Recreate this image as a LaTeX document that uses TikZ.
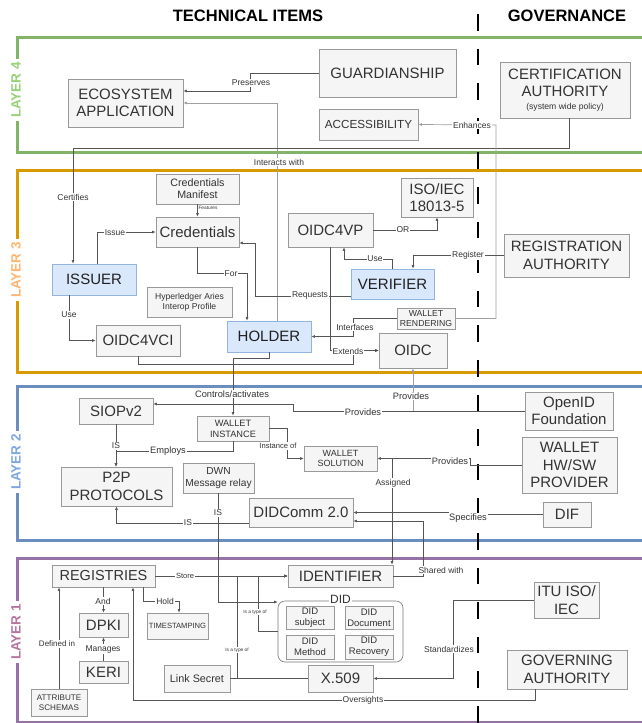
\documentclass[tikz,border=0pt]{standalone}
\usepackage{fontspec}
\setmainfont{Liberation Sans}
\usetikzlibrary{arrows.meta,calc}

\definecolor{boxfill}{HTML}{F5F5F5}
\definecolor{boxline}{HTML}{999999}
\definecolor{groupline}{HTML}{777777}
\definecolor{boxtext}{HTML}{333333}
\definecolor{bluefill}{HTML}{DAE8FC}
\definecolor{actorline}{HTML}{94B4E0}
\definecolor{blueline}{HTML}{6C8EBF}
\definecolor{greenline}{HTML}{82B366}
\definecolor{orangeline}{HTML}{D79B00}
\definecolor{purpleline}{HTML}{9673A6}
\definecolor{greentext}{HTML}{97D077}
\definecolor{orangetext}{HTML}{FFB570}
\definecolor{bluetext}{HTML}{7EA6E0}
\definecolor{purpletext}{HTML}{B5739D}
\definecolor{linkdark}{HTML}{555555}
\definecolor{linklight}{HTML}{A0A0A0}

\newcommand{\fs}[2]{\fontsize{#1}{#2}\selectfont}

\begin{document}
\begin{tikzpicture}[x=1pt,y=-1pt,
  box/.style={draw=boxline, fill=boxfill, text=boxtext, line width=0.7pt, inner sep=1pt, align=center},
  actor/.style={draw=actorline, fill=bluefill, text=black!88, line width=0.7pt, inner sep=1pt, align=center},
  big/.style={font=\fs{15}{17.5}},
  arr/.style={draw=linkdark, line width=0.6pt, -{Latex[length=3.5pt,width=3pt]}},
  arrlight/.style={draw=linklight, line width=0.7pt, -{Latex[length=3.5pt,width=3pt]}},
  plain/.style={draw=linkdark, line width=0.6pt},
  lbl/.style={fill=white, inner sep=0.8pt, text=boxtext, font=\fs{8.5}{9}},
  lblb/.style={fill=white, inner sep=0.8pt, text=boxtext, font=\fs{9.3}{10}},
  tiny/.style={fill=white, inner sep=0.5pt, text=boxtext, font=\fs{4.8}{5}},
  layerframe/.style={line width=3pt},
  layerlbl/.style={rotate=90, fill=white, inner sep=3.5pt, font=\bfseries\fs{13.5}{14}},
  heading/.style={font=\bfseries\fs{16.5}{18}}
]
\useasboundingbox (0,0) rectangle (642,723);

% ---------- layer frames (open on the right) ----------
\draw[layerframe, greenline]  (650,37)  -- (17,37)  -- (17,152) -- (650,152);
\draw[layerframe, orangeline] (650,170) -- (17,170) -- (17,372) -- (650,372);
\draw[layerframe, blueline]   (650,386) -- (17,386) -- (17,540) -- (650,540);
\draw[layerframe, purpleline] (650,558) -- (17,558) -- (17,722) -- (650,722);

\node[layerlbl, text=greentext]  (lay4) at (16,90)  {LAYER 4};
\node[layerlbl, text=orangetext] (lay3) at (16,270) {LAYER 3};
\node[layerlbl, text=bluetext]   (lay2) at (16,462) {LAYER 2};
\node[layerlbl, text=purpletext] (lay1) at (16,632) {LAYER 1};

% ---------- column headings and separator ----------
\node[heading] (hdtech) at (248,16) {TECHNICAL ITEMS};
\node[heading] (hdgov)  at (567,16) {GOVERNANCE};
\draw[line width=2.5pt, dash pattern=on 16.5pt off 18.1pt] (478,14) -- (478,723);

% ---------- layer 4 ----------
\node[box, big, minimum width=115pt, minimum height=48pt] (eco) at (125.5,103) {ECOSYSTEM\\APPLICATION};
\node[box, big, minimum width=137pt, minimum height=48pt] (guard) at (387.5,73) {GUARDIANSHIP};
\node[box, big, minimum width=130pt, minimum height=56pt] (ca) at (565,90)
  {CERTIFICATION\\AUTHORITY\\[-5pt]{\fs{8.6}{10}(system wide policy)}};
\node[box, font=\fs{11.7}{13}, minimum width=99pt, minimum height=31pt] (access) at (368.5,124.5) {ACCESSIBILITY};

% ---------- layer 3 ----------
\node[box, font=\fs{10.7}{12.3}, minimum width=83pt, minimum height=30pt] (manifest) at (197.5,189) {Credentials\\Manifest};
\node[box, big, minimum width=83pt, minimum height=30pt] (cred) at (197.5,232) {Credentials};
\node[actor, big, minimum width=84pt, minimum height=31pt] (issuer) at (94,279.5) {ISSUER};
\node[box, font=\fs{8.6}{10}, minimum width=85pt, minimum height=30pt] (hyper) at (189.5,302) {Hyperledger Aries\\Interop Profile};
\node[box, big, minimum width=84pt, minimum height=31pt] (oidc4vci) at (138,340.5) {OIDC4VCI};
\node[actor, big, minimum width=84pt, minimum height=31pt] (holder) at (269,336.5) {HOLDER};
\node[box, big, minimum width=85pt, minimum height=34pt] (oidc4vp) at (330.5,230) {OIDC4VP};
\node[box, big, minimum width=72pt, minimum height=39pt] (iso) at (437,197.5) {ISO/IEC\\18013-5};
\node[actor, big, minimum width=83pt, minimum height=30pt] (verifier) at (392.5,284) {VERIFIER};
\node[box, big, minimum width=125pt, minimum height=43pt] (regauth) at (566.5,255.5) {REGISTRATION\\AUTHORITY};
\node[box, font=\fs{8.7}{10.3}, minimum width=58pt, minimum height=21pt] (wrender) at (426,318.5) {WALLET\\RENDERING};
\node[box, big, minimum width=68pt, minimum height=35pt] (oidc) at (413,350.5) {OIDC};

% ---------- layer 2 ----------
\node[box, big, minimum width=74pt, minimum height=26pt] (siop) at (116,411) {SIOPv2};
\node[box, font=\fs{9.2}{10.8}, minimum width=72pt, minimum height=25pt] (winst) at (233,428.5) {WALLET\\INSTANCE};
\node[box, font=\fs{9}{10.8}, minimum width=73pt, minimum height=25pt] (wsol) at (340.5,458.5) {WALLET\\SOLUTION};
\node[box, big, minimum width=111pt, minimum height=39pt] (p2p) at (116.5,486.5) {P2P\\PROTOCOLS};
\node[box, font=\fs{10.2}{11.4}, minimum width=71pt, minimum height=30pt] (dwn) at (218.5,478) {DWN\\Message relay};
\node[box, big, minimum width=104pt, minimum height=29pt] (didcomm) at (301,512.5) {DIDComm 2.0};
\node[box, big, minimum width=88pt, minimum height=38pt] (openid) at (569,411) {OpenID\\Foundation};
\node[box, big, minimum width=95pt, minimum height=56pt] (whs) at (569.5,465) {WALLET\\HW/SW\\PROVIDER};
\node[box, big, minimum width=48pt, minimum height=25pt] (dif) at (567,514.5) {DIF};

% ---------- layer 1 ----------
\node[box, font=\fs{14.5}{16}, minimum width=103pt, minimum height=22pt] (reg) at (103.5,576) {REGISTRIES};
\node[box, big, minimum width=105pt, minimum height=22pt] (ident) at (340.5,576) {IDENTIFIER};
\node[box, big, minimum width=49pt, minimum height=24pt] (dpki) at (103.5,625) {DPKI};
\node[box, big, minimum width=49pt, minimum height=22pt] (keri) at (103.5,672) {KERI};
\node[box, font=\fs{7.6}{9}, minimum width=61pt, minimum height=26pt] (tstamp) at (177.5,626) {TIMESTAMPING};
\node[box, font=\fs{8.1}{10}, minimum width=56pt, minimum height=27pt] (attr) at (59,702.5) {ATTRIBUTE\\SCHEMAS};
\node[box, font=\fs{10.8}{12}, minimum width=66pt, minimum height=27pt] (link) at (197,678.5) {Link Secret};
\node[box, big, minimum width=65pt, minimum height=27pt] (x509) at (340.5,678.5) {X.509};
\node[draw=groupline, fill=white, line width=0.6pt, rounded corners=7pt, minimum width=125pt, minimum height=61pt] (didgrp) at (340.5,631.5) {};
\node[fill=white, inner sep=1.5pt, text=boxtext, font=\fs{12}{13}] (didtitle) at (340.5,599) {DID};
\node[box, font=\fs{9.5}{10.6}, minimum width=48pt, minimum height=23pt] (dsub) at (310,617.5) {DID\\subject};
\node[box, font=\fs{9.5}{10.6}, minimum width=48pt, minimum height=23pt] (ddoc) at (369,617.5) {DID\\Document};
\node[box, font=\fs{9.5}{10.6}, minimum width=48pt, minimum height=24pt] (dmeth) at (310,647) {DID\\Method};
\node[box, font=\fs{9.5}{10.6}, minimum width=48pt, minimum height=24pt] (drec) at (369,647) {DID\\Recovery};
\node[box, big, minimum width=65pt, minimum height=36pt] (itu) at (566.5,600) {ITU ISO/\\IEC};
\node[box, big, minimum width=120pt, minimum height=39pt] (gov) at (567,669.5) {GOVERNING\\AUTHORITY};

% ---------- connectors ----------
\draw[arr] (guard.west) -| (250,91) -- ([yshift=12pt]eco.east);
\draw[arrlight] ([xshift=8pt]holder.north) |- (eco.east);
\draw[arr] ([xshift=4pt]ca.south) |- (73,148) -- ([xshift=-21pt]issuer.north);
\draw[arrlight] (wrender.east) -| (496,125) -- (access.east);

\draw[arr] (manifest.south) -- (cred.north);
\draw[arr] ([xshift=3pt]issuer.north) |- (cred.west);
\draw[arr] ([xshift=-25pt]issuer.south) |- (oidc4vci.west);
\draw[arr] (cred.south) |- (247,273) -- ([xshift=-22pt]holder.north);
\draw[arr] ([yshift=-12pt]verifier.west) -| (255,243) -- ([yshift=-11pt]cred.east);
\draw[arr] (oidc4vp.east) -| (iso.south);
\draw[arr] (verifier.north) |- (344,259) -- ([xshift=13.5pt]oidc4vp.south);
\draw[arr] (regauth.west) -| ([xshift=20.5pt]verifier.north);
\draw[arr] (oidc4vp.south) |- (oidc.west);
\draw[arr] (oidc4vci.south) |- (353,364) |- (oidc.west);
\draw[arr] (wrender.west) -| (353,336.5) -- (holder.east);
\draw[arr] (holder.south) |- (233,358) -- (winst.north);

\coordinate (provjoin) at (413,411);
\draw[arr] (openid.west) -- (293,411) |- ([yshift=7pt]siop.east);
\draw[arrlight] (provjoin) -- (oidc.south);
\draw[arr] (siop.south) -- (siop.south |- p2p.north);
\draw[arr] (winst.south) |- (116,451) -- (siop.south |- p2p.north);
\draw[arr] (winst.east) -- (287,428.5) |- (wsol.west);
\draw[arr] (whs.west) -- (470,465) |- (wsol.east);
\coordinate (asgn) at (392,458.5);
\draw[arr] (asgn) -- ([xshift=51.5pt]ident.north);
\draw[arr] (dif.west) -- (448,514.5) |- (didcomm.east);
\draw[arr] (ident.east) -| (423,521) -- ([yshift=-8.5pt]didcomm.east);
\draw[arr] ([yshift=-10.5pt]didcomm.west) -| (p2p.south);
\draw[arr] (dwn.south) |- ([yshift=29.5pt]didgrp.west);

\draw[arr] (reg.east) -- (ident.west);
\draw[arr] (reg.south) -- (dpki.north);
\draw[arr] (keri.north) -- (dpki.south);
\draw[arr] ([xshift=39.5pt]reg.south) |- (179,601) -- ([xshift=1.5pt]tstamp.north);
\draw[arr] (attr.north) -- (attr.north |- reg.south);
\draw[arr] ([xshift=-32pt]gov.south) |- (133,700) -- ([xshift=29.5pt]reg.south);
\draw[arr] (didgrp.west) -| (258,576) -- (ident.west);
\draw[arr] (link.east) -- (237,678.5) |- (ident.west);
\draw[plain] (x509.west) -- (link.east);
\draw[arr] (itu.west) -- (453,600) |- (x509.east);

% ---------- connector labels ----------
\node[lbl] (tPreserves) at (251,83) {Preserves};
\node[lbl] (tInteracts) at (279,162) {Interacts with};
\node[lbl] (tCertifies) at (73,197) {Certifies};
\node[lbl] (tEnhances) at (472,125) {Enhances};
\node[lbl] (tIssue) at (115,233) {Issue};
\node[lbl] (tUseA) at (69,315) {Use};
\node[lbl] (tFor) at (231,274) {For};
\node[lbl] (tRequests) at (310,295.5) {Requests};
\node[lbl] (tOR) at (403,230) {OR};
\node[lbl] (tUseB) at (375,259) {Use};
\node[lbl] (tRegister) at (468,255.5) {Register};
\node[lbl] (tExtends) at (348,351) {Extends};
\node[lbl] (tInterfaces) at (355,327) {Interfaces};
\node[tiny] (tFeatures) at (208,208) {Features};

\node[lblb] (tControls) at (232,394) {Controls/activates};
\node[lblb] (tProvA) at (411,396) {Provides};
\node[lblb] (tProvB) at (363,412) {Provides};
\node[lbl] (tIsA) at (116,446) {IS};
\node[lblb] (tEmploys) at (168,451) {Employs};
\node[lbl, font=\fs{7.6}{8}] (tInstance) at (278,446) {Instance of};
\node[lblb] (tProvC) at (450,461) {Provides};
\node[lbl] (tAssigned) at (393,483) {Assigned};
\node[lblb] (tSpecifies) at (468,518) {Specifies};
\node[lbl] (tShared) at (441,570) {Shared with};
\node[lbl] (tIsB) at (188,523) {IS};
\node[lbl] (tIsC) at (218,513) {IS};

\node[lbl, font=\fs{7.5}{8}] (tStore) at (185,575.5) {Store};
\node[lbl] (tAnd) at (103,601) {And};
\node[lbl] (tManages) at (103,649) {Manages};
\node[lbl] (tHold) at (165,601) {Hold};
\node[lbl, font=\fs{8}{9}] (tDefined) at (57,644) {Defined in};
\node[lbl] (tOversights) at (363,700) {Oversights};
\node[tiny] (tTypeA) at (255,612) {Is a type of};
\node[tiny] (tTypeB) at (237,650) {Is a type of};
\node[lbl] (tStandard) at (449,649) {Standardizes};
\end{tikzpicture}
\end{document}
